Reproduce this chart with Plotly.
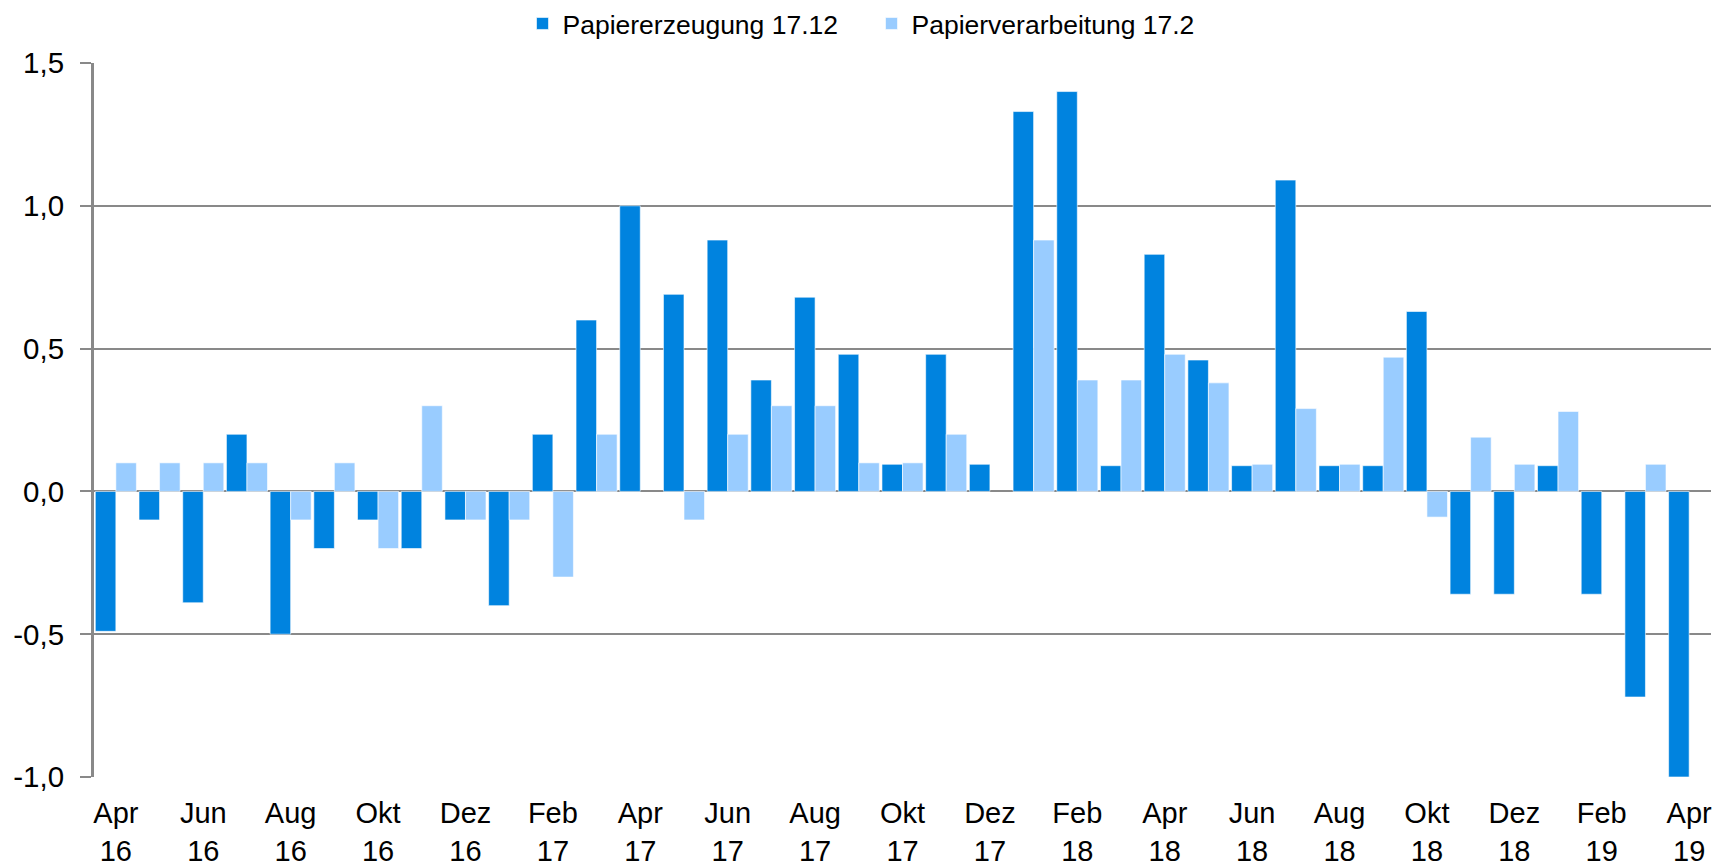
import plotly.graph_objects as go

# ---- data ----
months = ["Apr 16", "Mai 16", "Jun 16", "Jul 16", "Aug 16", "Sep 16", "Okt 16", "Nov 16", "Dez 16",
          "Jan 17", "Feb 17", "Mär 17", "Apr 17", "Mai 17", "Jun 17", "Jul 17", "Aug 17", "Sep 17",
          "Okt 17", "Nov 17", "Dez 17", "Jan 18", "Feb 18", "Mär 18", "Apr 18", "Mai 18", "Jun 18",
          "Jul 18", "Aug 18", "Sep 18", "Okt 18", "Nov 18", "Dez 18", "Jan 19", "Feb 19", "Mär 19",
          "Apr 19"]

papiererzeugung = [-0.49, -0.10, -0.39, 0.20, -0.50, -0.20, -0.10, -0.20, -0.10,
                   -0.40, 0.20, 0.60, 1.00, 0.69, 0.88, 0.39, 0.68, 0.48,
                   0.095, 0.48, 0.095, 1.33, 1.40, 0.09, 0.83, 0.46, 0.09,
                   1.09, 0.09, 0.09, 0.63, -0.36, -0.36, 0.09, -0.36, -0.72,
                   -1.00]

papierverarbeitung = [0.10, 0.10, 0.10, 0.10, -0.10, 0.10, -0.20, 0.30, -0.10,
                      -0.10, -0.30, 0.20, None, -0.10, 0.20, 0.30, 0.30, 0.10,
                      0.10, 0.20, None, 0.88, 0.39, 0.39, 0.48, 0.38, 0.095,
                      0.29, 0.095, 0.47, -0.09, 0.19, 0.095, 0.28, None, 0.095,
                      None]

series_names = ["Papiererzeugung 17.12", "Papierverarbeitung 17.2"]

x_ticktext = ["Apr<br>16", "Jun<br>16", "Aug<br>16", "Okt<br>16", "Dez<br>16",
              "Feb<br>17", "Apr<br>17", "Jun<br>17", "Aug<br>17", "Okt<br>17", "Dez<br>17",
              "Feb<br>18", "Apr<br>18", "Jun<br>18", "Aug<br>18", "Okt<br>18", "Dez<br>18",
              "Feb<br>19", "Apr<br>19"]

y_tickvals = [-1.0, -0.5, 0.0, 0.5, 1.0, 1.5]
y_ticktext = ["-1,0", "-0,5", "0,0", "0,5", "1,0", "1,5"]

# ---- figure ----
FONT = "Liberation Sans, Arial, sans-serif"
GRID = "#898989"
DARK = "#0083DF"
LIGHT = "#99CCFF"

idx = list(range(len(months)))

fig = go.Figure()
fig.add_trace(go.Bar(x=idx, y=papiererzeugung, name=series_names[0],
                     marker=dict(color=DARK, line=dict(color="white", width=0.6)),
                     hovertext=months))
fig.add_trace(go.Bar(x=idx, y=papierverarbeitung, name=series_names[1],
                     marker=dict(color=LIGHT, line=dict(color="white", width=0.6)),
                     hovertext=months))

n = len(months)
fig.update_layout(
    width=1726, height=867,
    paper_bgcolor="white", plot_bgcolor="white",
    margin=dict(l=94, r=15, t=63, b=90, autoexpand=False),
    barmode="group", bargap=0.06, bargroupgap=0.0,
    font=dict(family=FONT, color="black"),
    legend=dict(orientation="h", x=0.265, xanchor="left", y=1.055, yanchor="middle",
                font=dict(size=26.5, family=FONT), itemwidth=30,
                entrywidth=304, entrywidthmode="pixels",
                bgcolor="rgba(0,0,0,0)"),
    xaxis=dict(range=[-0.5, n - 0.5], tickmode="array",
               tickvals=idx[::2], ticktext=x_ticktext,
               ticks="outside", ticklen=10, tickcolor="rgba(0,0,0,0)",
               showgrid=False, showline=False, zeroline=False, automargin=False,
               tickfont=dict(size=29, family=FONT)),
    xaxis2=dict(overlaying="x", anchor="free", position=0.4, side="bottom",
                range=[-0.5, n - 0.5], tickmode="array",
                tickvals=[i - 0.5 for i in idx[::2]],
                ticks="outside", ticklen=8, tickwidth=2, tickcolor=GRID,
                showticklabels=False, showgrid=False, zeroline=False,
                showline=True, linecolor=GRID, linewidth=3),
    yaxis=dict(range=[-1.0, 1.5], tickmode="array", tickvals=y_tickvals, ticktext=y_ticktext,
               showgrid=True, gridcolor=GRID, gridwidth=2,
               showline=True, linecolor=GRID, linewidth=3,
               ticks="outside", ticklen=11, tickwidth=2, tickcolor=GRID,
               ticklabelstandoff=10,
               zeroline=False, automargin=False, tickfont=dict(size=29.5, family=FONT)),
)

fig.write_html("out.html", config={"displayModeBar": False},
               post_script="document.body.style.margin='0';")
